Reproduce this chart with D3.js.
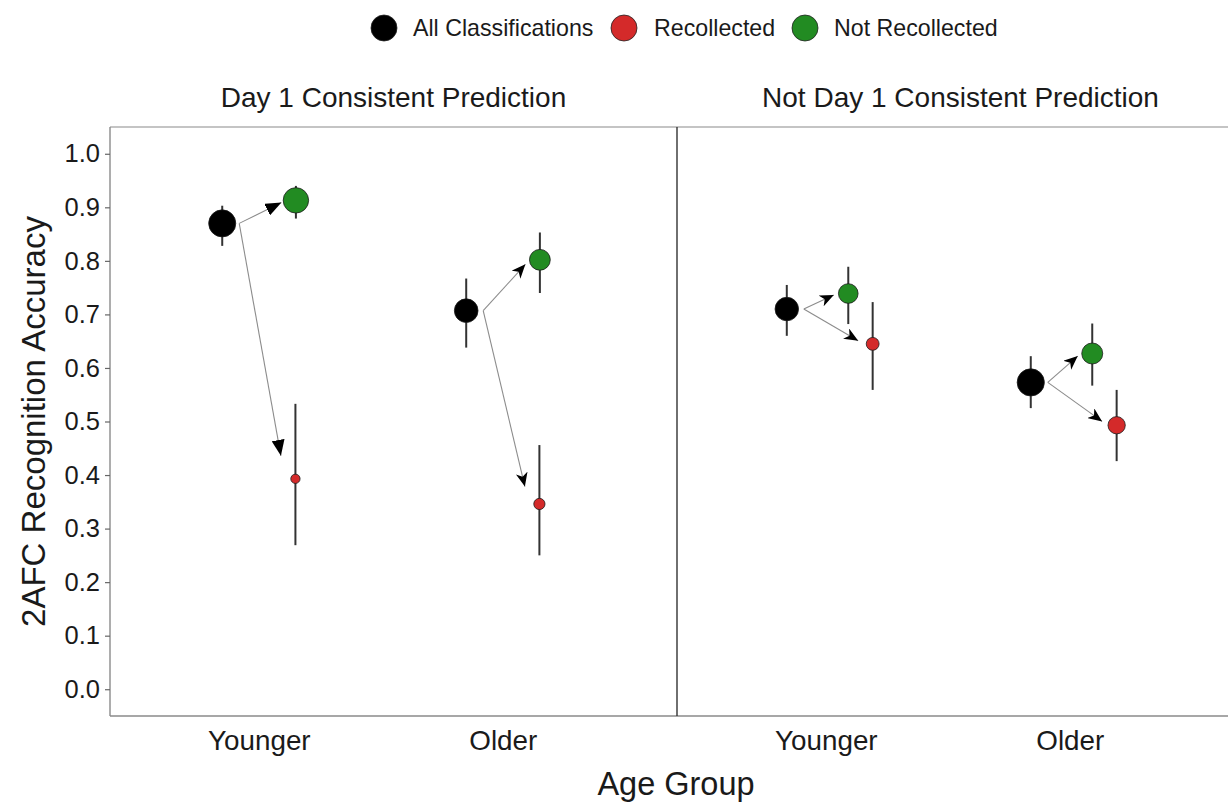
<!DOCTYPE html>
<html>
<head>
<meta charset="utf-8">
<script src="https://cdn.jsdelivr.net/npm/d3@7/dist/d3.min.js"></script>
<style>
  html, body { margin: 0; padding: 0; background: #ffffff; }
  svg { display: block; font-family: "Liberation Sans", Arial, Helvetica, sans-serif; }
</style>
</head>
<body>
<svg id="chart" width="1228" height="802"></svg>
<script>
// ---- data ----
const panels = ["Day 1 Consistent Prediction", "Not Day 1 Consistent Prediction"];
const ageGroups = ["Younger", "Older"];
const seriesNames = ["All Classifications", "Recollected", "Not Recollected"];
const seriesColors = ["#000000", "#d42a2a", "#228b22"];
const yTicks = [0.0, 0.1, 0.2, 0.3, 0.4, 0.5, 0.6, 0.7, 0.8, 0.9, 1.0];

// accuracy per panel, ordered [Younger, Older]
const allMean      = [[0.870, 0.707], [0.710, 0.573]];
const allLo        = [[0.828, 0.638], [0.660, 0.525]];
const allHi        = [[0.903, 0.767], [0.755, 0.622]];
const recMean      = [[0.393, 0.346], [0.645, 0.493]];
const recLo        = [[0.269, 0.250], [0.559, 0.426]];
const recHi        = [[0.533, 0.456], [0.723, 0.559]];
const notRecMean   = [[0.913, 0.802], [0.739, 0.627]];
const notRecLo     = [[0.879, 0.740], [0.682, 0.567]];
const notRecHi     = [[0.940, 0.853], [0.789, 0.683]];
// number of trials behind each point (drives point area)
const allN         = [[186, 142], [140, 188]];
const recN         = [[22, 32], [42, 76]];
const notRecN      = [[164, 110], [98, 112]];

// ---- layout ----
const W = 1228, H = 802;
const panelTop = 127, panelBottom = 716;
const panelX = [[110, 677], [677, 1244]];
// horizontal dodge of each series within a group (in category steps)
const dodge = [
  { all: -0.150, rec: 0.150, notRec: 0.152 },
  { all: -0.160, rec: 0.192, notRec: 0.092 }
];

const svg = d3.select("#chart");

const y = d3.scaleLinear().domain([-0.05, 1.05]).range([panelBottom, panelTop]);
const r = d3.scaleSqrt().domain([0, 188]).range([0, 13.6]);

// one x scale per panel; categories sit at 1 and 2
const xScales = panelX.map(([a, b]) => d3.scaleLinear().domain([0.39, 2.714]).range([a, b]));

// arrow head markers
const defs = svg.append("defs");
defs.append("marker")
  .attr("id", "headTri")
  .attr("viewBox", "0 0 16 13")
  .attr("refX", 16).attr("refY", 6.5)
  .attr("markerWidth", 16).attr("markerHeight", 13)
  .attr("markerUnits", "userSpaceOnUse")
  .attr("orient", "auto")
  .append("path").attr("d", "M0,0 L16,6.5 L0,13 Z").attr("fill", "#000");
defs.append("marker")
  .attr("id", "headStealth")
  .attr("viewBox", "0 0 14 12")
  .attr("refX", 14).attr("refY", 6)
  .attr("markerWidth", 14).attr("markerHeight", 12)
  .attr("markerUnits", "userSpaceOnUse")
  .attr("orient", "auto")
  .append("path").attr("d", "M0,0 L14,6 L0,12 L4,6 Z").attr("fill", "#000");

// ---- legend ----
const legendItems = [
  { name: seriesNames[0], color: seriesColors[0], cx: 384, tx: 413 },
  { name: seriesNames[1], color: seriesColors[1], cx: 624, tx: 654 },
  { name: seriesNames[2], color: seriesColors[2], cx: 805, tx: 834 }
];
const legend = svg.append("g");
legendItems.forEach(d => {
  legend.append("circle").attr("cx", d.cx).attr("cy", 28).attr("r", 13)
    .attr("fill", d.color).attr("stroke", "#222").attr("stroke-width", 0.8);
  legend.append("text").attr("x", d.tx).attr("y", 28).attr("dy", "0.35em")
    .attr("font-size", 23.2).attr("fill", "#1a1a1a").text(d.name);
});

// ---- frame ----
svg.append("line").attr("x1", 110).attr("x2", W).attr("y1", panelTop).attr("y2", panelTop)
  .attr("stroke", "#8a8a8a").attr("stroke-width", 1.2);
svg.append("line").attr("x1", 110).attr("x2", W).attr("y1", panelBottom).attr("y2", panelBottom)
  .attr("stroke", "#8a8a8a").attr("stroke-width", 1.4);
svg.append("line").attr("x1", 110).attr("x2", 110).attr("y1", panelTop).attr("y2", panelBottom)
  .attr("stroke", "#8a8a8a").attr("stroke-width", 1.4);
svg.append("line").attr("x1", 677).attr("x2", 677).attr("y1", panelTop).attr("y2", panelBottom)
  .attr("stroke", "#333").attr("stroke-width", 1.4);

// ---- y axis ----
const yAxis = d3.axisLeft(y).tickValues(yTicks).tickFormat(d3.format(".1f"))
  .tickSize(5).tickPadding(5);
const yG = svg.append("g").attr("transform", "translate(110,0)").call(yAxis);
yG.select(".domain").remove();
yG.selectAll(".tick line").attr("stroke", "#666").attr("stroke-width", 1.2);
yG.selectAll(".tick text").attr("font-size", 25.5).attr("fill", "#1a1a1a")
  .attr("font-family", "'Liberation Sans', Arial, sans-serif");

svg.append("text")
  .attr("transform", `translate(45,${(panelTop + panelBottom) / 2}) rotate(-90)`)
  .attr("text-anchor", "middle").attr("font-size", 33).attr("fill", "#1a1a1a")
  .text("2AFC Recognition Accuracy");

svg.append("text").attr("x", 676).attr("y", 795).attr("text-anchor", "middle")
  .attr("font-size", 32.5).attr("fill", "#1a1a1a").text("Age Group");

// ---- panels ----
panels.forEach((title, p) => {
  const x = xScales[p];
  const g = svg.append("g");

  g.append("text").attr("x", (panelX[p][0] + panelX[p][1]) / 2).attr("y", 97).attr("dy", "0.35em")
    .attr("text-anchor", "middle").attr("font-size", 28).attr("fill", "#1a1a1a").text(title);

  const xAxis = d3.axisBottom(x).tickValues([1, 2]).tickFormat((d, i) => ageGroups[i])
    .tickSize(0).tickPadding(0);
  const xG = g.append("g").attr("transform", `translate(0,${panelBottom})`).call(xAxis);
  xG.select(".domain").remove();
  xG.selectAll(".tick text").attr("font-size", 27.8).attr("fill", "#1a1a1a")
    .attr("dy", null).attr("y", 34)
    .attr("font-family", "'Liberation Sans', Arial, sans-serif");

  ageGroups.forEach((grp, i) => {
    const c = i + 1;
    const pts = [
      { key: "all", mean: allMean[p][i], lo: allLo[p][i], hi: allHi[p][i], n: allN[p][i], color: seriesColors[0] },
      { key: "rec", mean: recMean[p][i], lo: recLo[p][i], hi: recHi[p][i], n: recN[p][i], color: seriesColors[1] },
      { key: "notRec", mean: notRecMean[p][i], lo: notRecLo[p][i], hi: notRecHi[p][i], n: notRecN[p][i], color: seriesColors[2] }
    ];
    const px = d => x(c + dodge[p][d.key]);

    // arrows from the overall point to each split point
    const start = pts[0];
    const sx = px(start) + 17, sy = y(start.mean);
    const useTri = (p === 0 && i === 0);
    [pts[2], pts[1]].forEach(t => {
      const tx = px(t), ty = y(t.mean);
      const ex = tx - 14.5;
      const ey = sy + 0.91 * (ty - sy);
      g.append("line").attr("x1", sx).attr("y1", sy).attr("x2", ex).attr("y2", ey)
        .attr("stroke", "#8c8c8c").attr("stroke-width", 1.1)
        .attr("marker-end", useTri ? "url(#headTri)" : "url(#headStealth)");
    });

    // error bars
    pts.forEach(d => {
      g.append("line").attr("x1", px(d)).attr("x2", px(d))
        .attr("y1", y(d.lo)).attr("y2", y(d.hi))
        .attr("stroke", "#333").attr("stroke-width", 2);
    });
    // points
    pts.forEach(d => {
      g.append("circle").attr("cx", px(d)).attr("cy", y(d.mean)).attr("r", r(d.n))
        .attr("fill", d.color).attr("stroke", "#1a1a1a").attr("stroke-width", 0.8);
    });
  });
});
</script>
</body>
</html>
